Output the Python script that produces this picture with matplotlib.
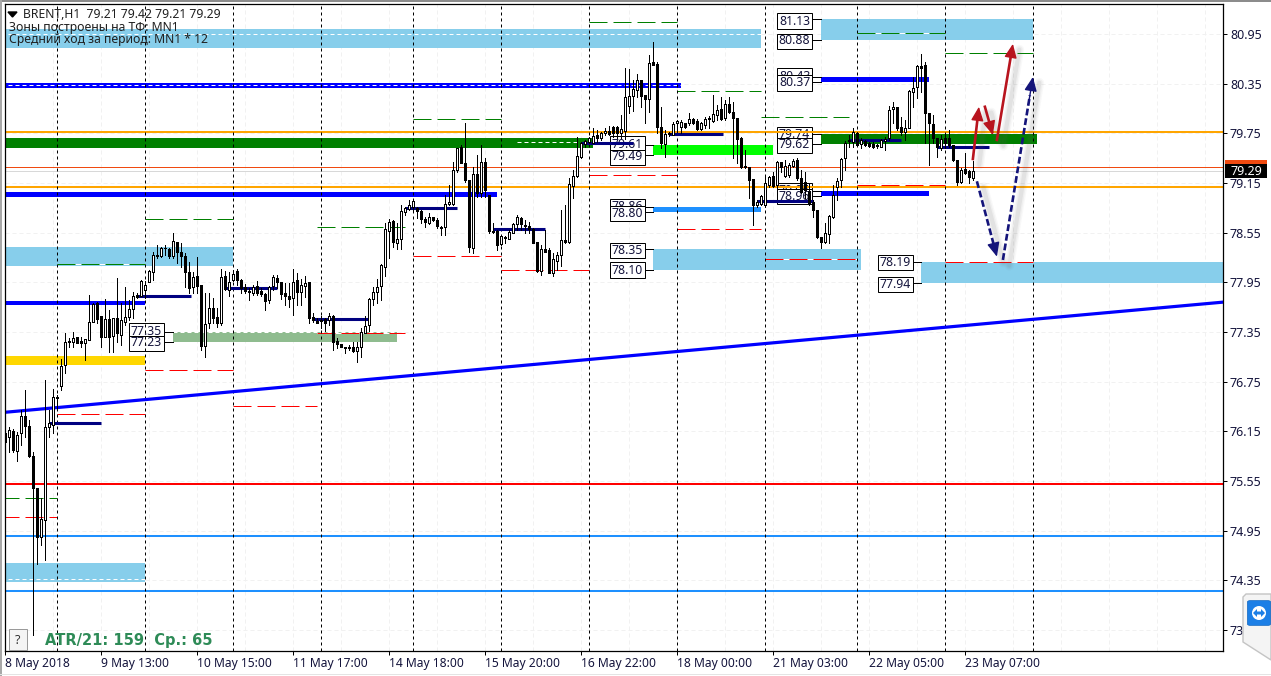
import matplotlib
matplotlib.use('Agg')
import matplotlib.pyplot as plt
from matplotlib.patches import Rectangle, Polygon, FancyBboxPatch, Ellipse

plt.rcParams['font.family'] = ['Noto Sans', 'DejaVu Sans']

# BRENT H1 candles, one row per 24 bars
opens = [76.02,76.08,76.15,75.91,76.13,76.33,76.21,75.85,75.46,74.87,75.08,76.20,76.23,76.55,76.70,76.95,77.23,77.23,77.29,77.24,77.22,77.25,77.47,77.70,
         77.54,77.29,77.51,77.30,77.52,77.31,77.47,77.53,77.63,77.80,77.78,77.86,77.95,78.07,78.27,78.27,78.36,78.35,78.27,78.44,78.32,78.27,78.07,77.89,
         78.03,77.92,77.18,77.46,77.64,77.53,77.46,78.03,77.86,77.98,78.09,77.98,77.89,77.84,77.82,77.91,77.84,77.81,77.74,77.91,78.00,77.95,77.82,77.78,
         77.76,77.98,77.83,77.91,77.95,77.53,77.48,77.48,77.51,77.49,77.54,77.24,77.20,77.17,77.17,77.17,77.12,77.17,77.34,77.43,77.75,77.83,77.91,78.13,
         78.57,78.69,78.42,78.47,78.80,78.84,78.86,78.85,78.81,78.71,78.67,78.74,78.70,78.62,78.62,78.90,78.90,79.31,79.58,79.39,79.19,78.36,79.26,79.03,
         79.40,79.00,78.57,78.57,78.41,78.49,78.47,78.55,78.65,78.73,78.64,78.63,78.59,78.44,78.09,78.35,78.34,78.06,78.21,78.28,78.46,78.44,79.11,79.23,
         79.46,79.62,79.64,79.63,79.73,79.69,79.75,79.78,79.83,79.83,79.75,79.78,80.08,80.20,80.27,80.39,80.21,80.16,80.61,80.59,79.83,79.62,79.74,79.73,
         79.87,79.83,79.87,79.87,79.92,79.90,79.80,79.85,79.93,79.90,79.97,80.04,79.93,80.10,80.01,79.93,79.69,79.35,79.34,79.20,78.88,78.90,78.88,79.13,
         79.23,79.13,79.40,79.23,79.25,79.35,79.43,79.21,79.16,79.05,78.92,78.82,78.50,78.44,78.53,78.74,79.10,79.19,79.45,79.67,79.64,79.75,79.62,79.66,
         79.63,79.62,79.61,79.58,79.66,79.69,80.04,80.07,79.83,79.77,79.81,80.25,80.31,80.56,80.57,79.99,79.86,79.69,79.57,79.69,79.69,79.61,79.43,79.16,
         79.32,79.29,79.21]
highs = [76.15,76.20,76.18,76.14,76.41,76.65,76.29,75.90,75.46,75.34,76.77,76.41,76.66,76.59,77.02,77.34,77.28,77.35,77.29,77.29,77.27,77.80,77.70,77.71,
         77.54,77.75,77.62,77.52,78.00,77.70,77.89,77.74,77.83,77.82,77.98,77.97,78.10,78.32,78.40,78.38,78.40,78.36,78.55,78.44,78.42,78.30,78.19,78.07,
         78.26,77.92,77.82,77.82,77.76,77.64,78.11,78.09,78.07,78.10,78.11,77.99,77.93,77.88,77.92,77.97,77.88,77.82,77.91,78.04,78.04,77.95,77.94,77.94,
         78.11,78.06,77.99,78.03,77.95,77.58,77.52,77.54,77.52,77.58,77.55,77.28,77.20,77.17,77.19,77.23,77.23,77.40,77.54,77.76,77.89,77.99,78.17,78.67,
         78.71,78.70,78.67,78.88,78.86,78.94,78.94,78.86,78.82,78.74,78.79,78.74,78.73,78.63,79.00,79.13,79.40,79.57,79.61,79.87,79.19,79.34,79.49,79.61,
         79.45,79.00,78.67,78.58,78.52,78.51,78.58,78.67,78.76,78.74,78.70,78.68,78.60,78.44,78.40,78.58,78.36,78.30,78.32,78.82,78.88,79.21,79.31,79.71,
         79.64,79.67,79.71,79.81,79.79,79.77,79.81,79.84,79.84,79.84,79.97,80.54,80.53,80.39,80.47,80.39,80.21,80.70,80.85,80.61,80.07,79.79,79.76,79.89,
         79.91,79.91,79.87,79.99,79.93,79.92,79.89,79.95,79.96,80.21,80.09,80.19,80.15,80.19,80.13,79.93,79.71,79.55,79.34,79.20,78.94,79.00,79.22,79.23,
         79.28,79.41,79.40,79.43,79.39,79.44,79.45,79.31,79.28,79.15,78.94,78.82,78.50,78.67,78.76,79.13,79.21,79.45,79.66,79.73,79.81,79.77,79.69,79.67,
         79.64,79.64,79.62,79.68,79.71,80.08,80.13,80.07,79.95,79.91,80.27,80.43,80.57,80.71,80.61,79.99,79.97,79.69,79.73,79.75,79.79,79.61,79.43,79.33,
         79.51,79.31,79.42]
lows = [75.77,75.90,75.90,75.79,75.98,76.08,75.84,73.69,74.55,74.78,74.60,76.08,76.13,76.43,76.65,76.85,77.17,77.17,77.22,77.17,77.01,77.25,77.47,77.46,
        77.17,77.29,77.11,77.11,77.23,77.19,77.43,77.49,77.52,77.76,77.78,77.76,77.95,77.98,78.24,78.26,78.28,78.24,78.24,78.18,78.13,77.89,77.82,77.82,
        77.82,77.13,77.05,77.40,77.46,77.41,77.43,77.86,77.78,77.97,77.92,77.82,77.82,77.74,77.80,77.80,77.78,77.62,77.70,77.86,77.88,77.75,77.68,77.65,
        77.55,77.68,77.68,77.77,77.46,77.47,77.46,77.40,77.36,77.43,77.13,77.16,77.17,77.10,77.13,77.11,76.99,77.05,77.34,77.36,77.68,77.70,77.74,78.03,
        78.24,78.38,78.35,78.35,78.76,78.82,78.82,78.73,78.67,78.62,78.65,78.69,78.61,78.52,78.52,78.88,78.88,79.28,79.39,79.16,78.32,78.30,78.98,78.98,
        78.98,78.55,78.55,78.34,78.40,78.42,78.47,78.55,78.58,78.58,78.55,78.55,78.42,78.07,78.04,78.32,78.06,78.03,78.10,78.15,78.42,78.42,78.97,79.22,
        79.45,79.58,79.63,79.63,79.64,79.67,79.73,79.73,79.70,79.69,79.69,79.68,80.00,80.02,80.19,80.07,79.87,80.01,80.57,79.75,79.57,79.46,79.72,79.73,
        79.77,79.75,79.81,79.85,79.86,79.79,79.79,79.81,79.81,79.89,79.91,79.91,79.91,79.99,79.45,79.39,79.33,79.33,78.97,78.64,78.86,78.88,78.86,79.10,
        79.10,79.10,79.28,79.22,79.22,79.34,79.19,79.03,78.97,78.88,78.74,78.49,78.36,78.42,78.42,78.73,78.94,79.10,79.31,79.58,79.58,79.60,79.57,79.60,
        79.58,79.57,79.57,79.58,79.55,79.67,79.87,79.79,79.73,79.67,79.81,80.07,80.18,80.25,79.63,79.37,79.63,79.46,79.55,79.57,79.58,79.41,79.13,79.15,
        79.26,79.15,79.19]
closes = [76.13,76.17,75.92,76.11,76.33,76.21,75.85,75.46,74.87,75.09,76.20,76.25,76.56,76.56,76.94,77.23,77.24,77.28,77.22,77.22,77.27,77.47,77.69,77.51,
          77.29,77.51,77.29,77.52,77.34,77.49,77.53,77.63,77.78,77.77,77.97,77.92,78.09,78.28,78.28,78.36,78.37,78.27,78.45,78.32,78.27,78.07,77.88,78.01,
          77.91,77.18,77.45,77.64,77.52,77.46,78.01,77.87,77.95,78.05,77.98,77.88,77.84,77.83,77.89,77.82,77.81,77.72,77.89,78.01,77.95,77.81,77.78,77.75,
          77.95,77.83,77.92,77.94,77.52,77.49,77.46,77.49,77.46,77.54,77.23,77.20,77.17,77.16,77.16,77.12,77.17,77.35,77.42,77.75,77.83,77.89,78.16,78.59,
          78.68,78.44,78.47,78.81,78.85,78.88,78.93,78.81,78.71,78.68,78.74,78.70,78.63,78.60,78.90,78.92,79.31,79.57,79.39,79.19,78.38,79.26,79.03,79.40,
          79.06,78.57,78.56,78.40,78.51,78.50,78.56,78.65,78.74,78.65,78.63,78.59,78.42,78.09,78.35,78.32,78.06,78.23,78.28,78.46,78.44,79.14,79.23,79.48,
          79.63,79.66,79.69,79.72,79.69,79.75,79.78,79.74,79.75,79.75,79.80,80.19,80.20,80.29,80.39,80.20,80.16,80.60,80.57,79.83,79.63,79.74,79.75,79.86,
          79.90,79.89,79.83,79.92,79.87,79.80,79.87,79.92,79.92,79.98,80.03,79.92,80.10,80.01,79.93,79.68,79.34,79.34,79.19,78.88,78.92,78.99,79.15,79.22,
          79.11,79.40,79.34,79.35,79.37,79.42,79.21,79.04,79.06,78.91,78.82,78.50,78.44,78.55,78.75,79.00,79.17,79.44,79.63,79.66,79.77,79.61,79.67,79.61,
          79.60,79.58,79.60,79.67,79.68,80.03,80.07,79.81,79.77,79.81,80.26,80.30,80.56,80.54,79.99,79.87,79.69,79.58,79.68,79.63,79.61,79.43,79.16,79.31,
          79.27,79.22,79.29]

ytick_values = [80.95,80.35,79.75,79.15,78.55,77.95,77.35,76.75,76.15,75.55,74.95,74.35,73.75]
date_bars = [0,24,48,72,96,120,144,168,192,216,240]
date_labels = ['8 May 2018','9 May 13:00','10 May 15:00','11 May 17:00','14 May 18:00','15 May 20:00',
               '16 May 22:00','18 May 00:00','21 May 03:00','22 May 05:00','23 May 07:00']
period_bars = [13,35,57,79,102,124,146,168,190,213,235,257]

# zones: start bar, end bar, low, high
sky_zones = [[-1,189,80.78,81.01],[-1,57,78.15,78.38],[-1,35,74.33,74.56],[162,214,78.10,78.35],[204,257,80.88,81.13],[229,305,77.94,78.19]]
green_zones = [[-1,147,79.57,79.69],[204,258,79.62,79.74]]
lime_zones = [[162,192,79.49,79.61]]
dodger_zones = [[162,189,78.80,78.86]]
blue_zones = [[-1,169,80.30,80.36],[-1,123,78.98,79.04],[-1,35,77.67,77.72],[204,231,80.37,80.43],[204,231,78.99,79.05]]
gold_zones = [[-1,35,76.95,77.06]]
sage_zones = [[42,98,77.23,77.35]]

green_dash = [[-1,13,75.34],[13,35,78.17],[35,57,78.71],[78,100,78.62],[102,124,79.92],[146,168,81.09],[168,189,80.26],[189,211,79.95],[213,235,80.96],[235,257,80.72]]
red_dash = [[-1,13,75.11],[13,35,76.36],[35,57,76.89],[57,78,76.46],[78,100,77.34],[102,124,78.27],[124,146,78.10],[146,168,79.25],[168,189,78.59],[190,213,78.23],[213,235,79.12],[235,257,78.19]]
navy_lines = [[33,46.5,77.78],[11,24,76.25],[55,68,77.88],[77,91,77.51],[100,113,78.85],[122,135,78.59],[144,157,79.63],[166,179.5,79.74],[188,202,78.93],[211,224,79.67],[233,246,79.58]]
white_dash = [[-1,189,80.95],[-1,169,80.33],[-1,35,74.37],[42,98,77.35],[235,305,77.94],[128,143,79.65]]

orange_levels = [79.77,79.10]
red_level = 75.51
dodger_levels = [74.89,74.22]
bid_level = 79.29
ask_level = 79.34
trend_bars = [0,304.4]
trend_prices = [76.38,77.71]

label_text = ['77.35','77.23','79.61','79.49','78.86','78.80','78.35','78.10','81.13','80.88','80.43','80.37','79.74','79.62','79.05','78.96','78.19','77.94']
label_price = [77.35,77.23,79.61,79.49,78.86,78.80,78.35,78.10,81.13,80.88,80.43,80.37,79.74,79.62,79.05,78.99,78.19,77.94]

# arrows: x0, y0, x1, y1 in bars and prices
red_arrows = [[241.9,79.44,243.4,80.07],[244.9,80.07,246.9,79.73],[247.9,79.67,251.9,80.83]]
navy_arrows = [[242.9,79.17,247.9,78.26],[249.4,78.22,256.9,80.43]]

W, H = 1271, 676
LEFT, RIGHT, TOP, BOTTOM = 4.7, 1223, 4, 650.5

def x_of(px):
    return (px - 5.3) / 4

def y_of(py):
    return 81.36 - 0.01208 * py

fig = plt.figure(figsize=(W / 100, H / 100), dpi=100, facecolor='white')
ax = fig.add_axes([LEFT / W, 1 - BOTTOM / H, (RIGHT - LEFT) / W, (BOTTOM - TOP) / H])
ax.set_xlim(x_of(LEFT), x_of(RIGHT))
ax.set_ylim(y_of(BOTTOM), y_of(TOP))
for s in ax.spines.values():
    s.set_linewidth(0.9)
    s.set_zorder(20)

px = 0.72  # one pixel in points

# faint grid
for b in range(0, 305, 12):
    ax.axvline(b, color='#f1f1f1', lw=px, ls=(0, (4, 3)), zorder=0)
for v in ytick_values:
    ax.axhline(v, color='#f1f1f1', lw=px, ls=(0, (4, 3)), zorder=0)

def draw_zones(zones, color, z=1):
    for z0, z1, lo, hi in zones:
        ax.add_patch(Rectangle((z0, lo), z1 - z0, hi - lo, facecolor=color, edgecolor='none', zorder=z))

draw_zones(sky_zones, '#87ceeb')
draw_zones(green_zones, '#008000')
draw_zones(lime_zones, '#00ff00')
draw_zones(dodger_zones, '#1e90ff')
draw_zones(gold_zones, '#ffd700')
draw_zones(sage_zones, '#8fbc8f')
draw_zones(blue_zones, '#0000ff', z=1.5)

for x0, x1, v in white_dash:
    ax.plot([x0, x1], [v, v], color='white', lw=px, ls=(0, (4, 3)), zorder=1.6)

# price labels with leader lines
for i in range(len(label_text)):
    if i < 2:
        bx, zone_x = 129, 173
    elif i < 8:
        bx, zone_x = 610, 653
    elif i < 16:
        bx, zone_x = 777, 821
    else:
        bx, zone_x = 878, 921
    box_w = 35
    box_h = 15
    yc = [331,343,144,157,206,213,250,270,21,41,76,83,134,145,190,196,262,284][i]
    ax.plot([x_of(bx + box_w), x_of(zone_x)], [label_price[i]] * 2, color='black', lw=px, zorder=1.7)
    ax.add_patch(Rectangle((x_of(bx), y_of(yc + box_h / 2)), box_w / 4, 0.01208 * box_h,
                           facecolor='white', edgecolor='black', lw=px, zorder=2 + i * 0.01))
    ax.text(x_of(bx + box_w / 2), y_of(yc), label_text[i], ha='center', va='center', fontsize=8.8,
            color='#14143c', zorder=2.005 + i * 0.01)

# lines over the zones
for v in orange_levels:
    ax.axhline(v, color='#ffa500', lw=1.45, zorder=3)
ax.axhline(ask_level, color='#f04a10', lw=px, zorder=3)
ax.axhline(bid_level, color='#d8d8d8', lw=px, zorder=3)
ax.plot([x_of(6), x_of(RIGHT)], [red_level, red_level], color='#ff0000', lw=1.45, zorder=3)
for v in dodger_levels:
    ax.axhline(v, color='#1e90ff', lw=1.45, zorder=3)

for b in period_bars:
    ax.axvline(b, color='black', lw=px, ls=(0, (3, 3)), zorder=3.2)

for x0, x1, v in green_dash:
    ax.plot([x0, x1], [v, v], color='white', lw=px, zorder=1.8)
    ax.plot([x0, x1], [v, v], color='#008000', lw=px, ls=(0, (18, 6)), zorder=3.1)
for x0, x1, v in red_dash:
    ax.plot([x0, x1], [v, v], color='white', lw=px, zorder=1.8)
    ax.plot([x0, x1], [v, v], color='#ff0000', lw=px, ls=(0, (18, 6)), zorder=3.1)

ax.plot(trend_bars, trend_prices, color='#0000ff', lw=2.3, zorder=3.3)

for x0, x1, v in navy_lines:
    ax.plot([x0, x1], [v, v], color='#000080', lw=2.2, solid_capstyle='butt', zorder=3.4)

# candles
bars = range(len(opens))
ax.vlines(bars, lows, highs, color='black', lw=px, zorder=4, antialiased=False)
for i in bars:
    lo = min(opens[i], closes[i])
    hi = max(opens[i], closes[i])
    fc = 'white' if closes[i] >= opens[i] else 'black'
    ax.add_patch(Rectangle((i - 0.25, lo), 0.5, hi - lo, facecolor=fc, edgecolor='black', lw=px,
                           antialiased=False, snap=True, zorder=4.1))

# hand drawn arrows with soft shadow
def draw_arrow(a, color, ls):
    x0, y0, x1, y1 = a
    for lw, alpha in [(7, 0.04), (5, 0.06), (3, 0.09)]:
        ax.plot([x0 + 1.6, x1 + 1.6], [y0 - 0.07, y1 - 0.07], color='#606060', lw=lw, alpha=alpha,
                solid_capstyle='round', zorder=4.5)
    ax.plot([x0, x0 + (x1 - x0) * 0.9], [y0, y0 + (y1 - y0) * 0.9], color=color, lw=1.9, ls=ls, zorder=5)
    ax.annotate('', xy=(x1, y1), xytext=(x0 + (x1 - x0) * 0.85, y0 + (y1 - y0) * 0.85),
                arrowprops=dict(arrowstyle='-|>,head_width=0.38,head_length=0.85', color=color, lw=1,
                                shrinkA=0, shrinkB=0), zorder=5)

for a in red_arrows:
    draw_arrow(a, '#b8141e', '-')
for a in navy_arrows:
    draw_arrow(a, '#14147a', (0, (2.6, 1.1)))

# axes ticks
ax.yaxis.tick_right()
ax.set_yticks(ytick_values)
ax.set_yticklabels(['%.2f' % v for v in ytick_values])
ax.set_xticks(date_bars)
ax.set_xticklabels(date_labels, ha='left')
ax.tick_params(axis='y', length=3, width=px, pad=2, labelsize=9, labelcolor='#14143c')
ax.tick_params(axis='x', length=3, width=px, pad=2, labelsize=8.7, labelcolor='#14143c')

def fx(p):
    return p / W

def fy(p):
    return 1 - p / H

# header text
fig.add_artist(Polygon([[fx(8), fy(12)], [fx(17), fy(12)], [fx(12.5), fy(17)]], closed=True, color='black', transform=fig.transFigure, zorder=30))
fig.text(fx(23), fy(14.5), 'BRENT,H1  79.21 79.42 79.21 79.29', fontsize=8.8, color='#202020', va='center', zorder=30)
fig.text(fx(9), fy(28), 'Зоны построены на ТФ: MN1', fontsize=8.8, color='#202020', va='center', zorder=30)
fig.text(fx(9), fy(40), 'Средний ход за период: MN1 * 12', fontsize=8.8, color='#202020', va='center', zorder=30)

# ATR line and help button
fig.text(fx(45), fy(640), 'ATR/21: 159  Ср.: 65', fontsize=10.5, fontweight='bold', family='DejaVu Sans', color='#2e8b57', va='center', zorder=30)
fig.add_artist(Rectangle((fx(8.5), fy(650)), fx(18), 21 / H, facecolor='#f4f4f4', edgecolor='#9a9a9a', lw=px, transform=fig.transFigure, zorder=30))
fig.text(fx(17.5), fy(640), '?', fontsize=9, color='#303030', ha='center', va='center', zorder=31)

# current price tags
fig.add_artist(Rectangle((fx(1225), fy(164)), 42 / W, 4 / H, facecolor='#f04a10', edgecolor='none', transform=fig.transFigure, zorder=30))
fig.add_artist(Rectangle((fx(1225), fy(178)), 42 / W, 14 / H, facecolor='black', edgecolor='none', transform=fig.transFigure, zorder=31))
fig.text(fx(1246), fy(171.5), '79.29', fontsize=9, color='white', ha='center', va='center', zorder=32)

# window frame
fig.add_artist(Rectangle((0, fy(1.5)), 1, 1.5 / H, facecolor='#8c8c8c', edgecolor='none', transform=fig.transFigure, zorder=40))
fig.add_artist(Rectangle((0, 0), 1.5 / W, 1, facecolor='#a8a8a8', edgecolor='none', transform=fig.transFigure, zorder=40))
fig.add_artist(Rectangle((0, fy(675)), 1, 1.5 / H, facecolor='#e4e4e4', edgecolor='none', transform=fig.transFigure, zorder=40))

# remote desktop widget on the right edge
fig.add_artist(Polygon([[fx(1246), fy(594)], [fx(1271), fy(594)], [fx(1271), fy(660)], [fx(1243), fy(642)], [fx(1243), fy(597)]],
                       closed=True, facecolor='#f4f4f4', edgecolor='#c4c4c4', lw=1, transform=fig.transFigure, zorder=35))
fig.add_artist(FancyBboxPatch((fx(1250), fy(624)), 18 / W, 22 / H, boxstyle='round,pad=0.002', facecolor='#1c7fe6',
                              edgecolor='#0f66c0', lw=0.5, transform=fig.transFigure, zorder=36))
fig.add_artist(Ellipse((fx(1259), fy(613)), 14 / W, 14 / H, facecolor='white', edgecolor='none', transform=fig.transFigure, zorder=37))
fig.add_artist(Polygon([[fx(1253), fy(613)], [fx(1257), fy(609)], [fx(1257), fy(611.5)], [fx(1261), fy(611.5)], [fx(1261), fy(609)],
                        [fx(1265), fy(613)], [fx(1261), fy(617)], [fx(1261), fy(614.5)], [fx(1257), fy(614.5)], [fx(1257), fy(617)]],
                       closed=True, facecolor='#1c7fe6', edgecolor='none', transform=fig.transFigure, zorder=38))

fig.savefig('out.png', dpi=100)
